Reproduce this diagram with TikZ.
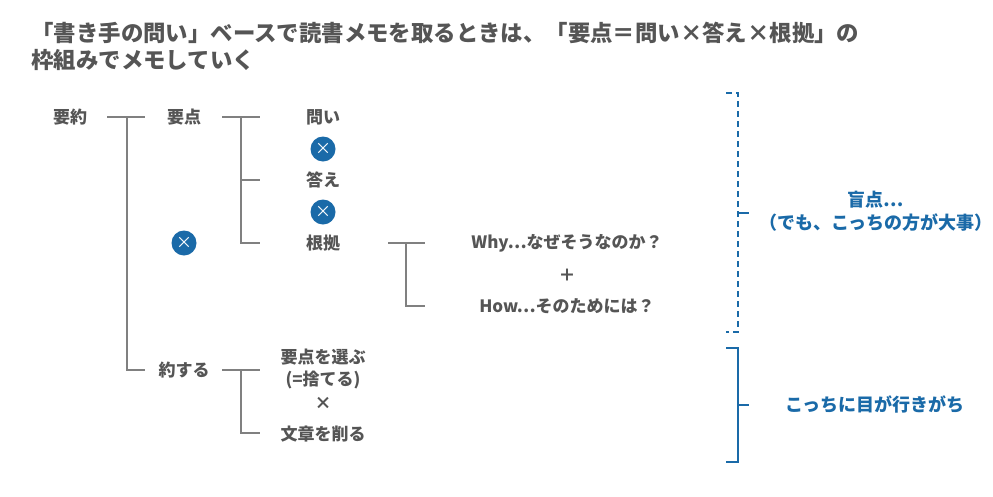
\documentclass[tikz,border=0pt]{standalone}
\usepackage{fontspec}
\setmainfont{Noto Sans CJK JP}
\usetikzlibrary{positioning}
\definecolor{txtgray}{HTML}{555555}
\definecolor{linegray}{HTML}{808080}
\definecolor{accblue}{HTML}{1A6AA8}
\tikzset{
  lbl/.style={text=txtgray,font=\fontsize{17}{22}\selectfont\bfseries,inner sep=1pt},
  note/.style={text=accblue,font=\fontsize{18}{23}\selectfont\bfseries,align=center,inner sep=1pt},
  times/.style={circle,fill=accblue,text=white,minimum size=25pt,inner sep=0pt,font=\fontsize{16}{16}\selectfont},
  tree/.style={linegray,line width=1.3pt},
  brace/.style={accblue,line width=1.3pt}
}
\begin{document}
\begin{tikzpicture}[x=1pt,y=-1pt]
    \useasboundingbox[fill=white] (0,0) rectangle (993,496);
    % title
    \node[anchor=west,text=txtgray,font=\fontsize{22.4}{27}\selectfont\bfseries,align=left] (title) at (28,46)
        {「書き手の問い」ベースで読書メモを取るときは、「要点＝問い×答え×根拠」の\\枠組みでメモしていく};

    % tree labels
    \node[lbl] (yoyaku) at (70,117) {要約};
    \node[lbl] (yoten) at (184,117) {要点};
    \node[lbl] (toi) at (323,117) {問い};
    \node[times] (x1) at (323,149) {×};
    \node[lbl] (kotae) at (323,180) {答え};
    \node[times] (x2) at (323,212) {×};
    \node[lbl] (konkyo) at (323,243) {根拠};
    \node[times] (x3) at (184,243) {×};
    \node[lbl] (why) at (567,243) {Why…なぜそうなのか？};
    \node[lbl] (plus) at (567,275) {＋};
    \node[lbl] (how) at (567,306) {How…そのためには？};
    \node[lbl] (yakusu) at (184,370) {約する};
    \node[lbl,align=center] (erabu) at (323,369) {要点を選ぶ\\(=捨てる)};
    \node[lbl] (x4) at (323,403) {×};
    \node[lbl] (kezuru) at (323,434) {文章を削る};

    % tree lines
    \coordinate (j1) at (127,117);
    \draw[tree] (107,117) -- (145,117);
    \draw[tree] (j1) -- (127,370) -- (145,370);
    \draw[tree] (222,117) -- (260,117);
    \draw[tree] (241,117) -- (241,243) -- (260,243);
    \draw[tree] (241,180) -- (260,180);
    \draw[tree] (388,243) -- (425,243);
    \draw[tree] (406,243) -- (406,306) -- (425,306);
    \draw[tree] (222,370) -- (260,370);
    \draw[tree] (241,370) -- (241,433) -- (260,433);

    % braces
    \draw[brace,dashed,dash pattern=on 6pt off 4pt] (726,93) -- (738,93) -- (738,332) -- (726,332);
    \draw[brace] (738,213) -- (749,213);
    \draw[brace] (726,348) -- (738,348) -- (738,462) -- (726,462);
    \draw[brace] (738,405) -- (749,405);
    \node[note] (moten) at (876,211) {盲点…\\（でも、こっちの方が大事）};
    \node[note] (kocchi) at (875,404) {こっちに目が行きがち};
\end{tikzpicture}
\end{document}
